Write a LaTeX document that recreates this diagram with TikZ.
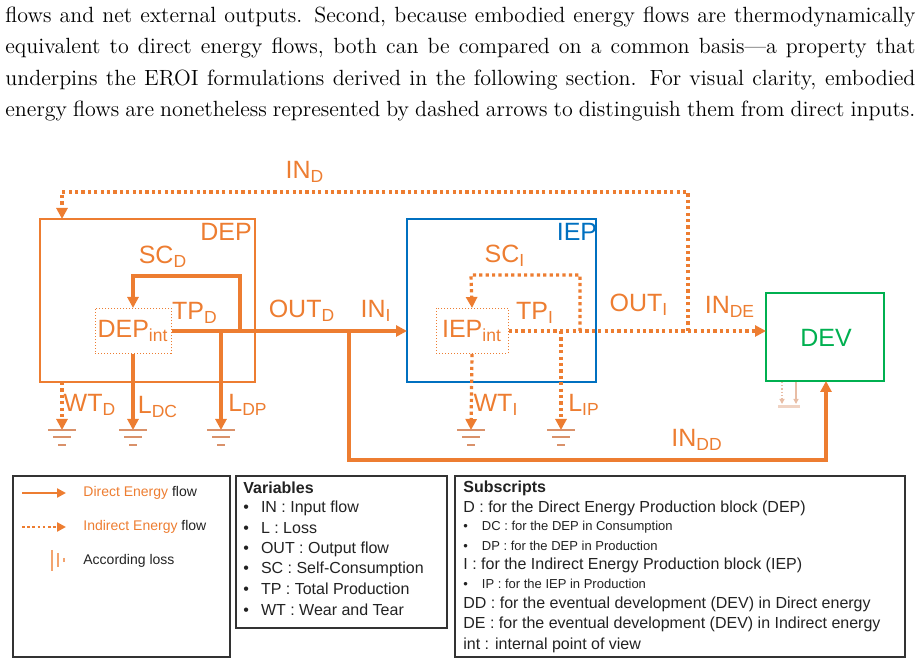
\documentclass[tikz,border=0pt]{standalone}
\usepackage{fontspec}
\newfontfamily\dsf{Liberation Sans}
\usetikzlibrary{arrows.meta,calc}
\definecolor{eo}{HTML}{ED7D31}
\definecolor{eb}{HTML}{0070C0}
\definecolor{eg}{HTML}{00B050}
\definecolor{gr}{HTML}{D9916A}
\definecolor{tx}{HTML}{222222}
\tikzset{
 direct/.style={eo,line width=1.6pt},
 indirect/.style={eo,line width=1.6pt,dash pattern=on 1.6pt off 1.6pt},
 tip/.style={-{Triangle[length=5.5pt,width=5.5pt]}},
 lbl/.style={eo,font=\dsf\fontsize{12.5}{13}\selectfont,inner sep=0pt},
 legtxt/.style={font=\dsf\fontsize{8}{9}\selectfont,anchor=west,inner sep=0pt,text=tx},
 smalltxt/.style={font=\dsf\fontsize{6.5}{8}\selectfont,anchor=west,inner sep=0pt,text=tx},
 para/.style={font=\fontsize{11}{13}\selectfont,anchor=west,inner sep=0pt},
}
\newcommand{\grnd}[1]{%
 \draw[gr,line width=1.3pt] ($(#1)+(-14,0)$)--($(#1)+(14,0)$);
 \draw[gr,line width=1.3pt] ($(#1)+(-9,7)$)--($(#1)+(9,7)$);
 \draw[gr,line width=1.3pt] ($(#1)+(-4,15)$)--($(#1)+(4,15)$);}
\begin{document}
\begin{tikzpicture}[x=0.5pt,y=-0.5pt]
\useasboundingbox (0,0) rectangle (921,667);
% paragraph
\node[para] (p1) at (5,17) {\makebox[455pt][s]{flows and net external outputs. Second, because embodied energy flows are thermodynamically}};
\node[para] (p2) at (5,48) {\makebox[455pt][s]{equivalent to direct energy flows, both can be compared on a common basis---a property that}};
\node[para] (p3) at (5,80) {\makebox[455pt][s]{underpins the EROI formulations derived in the following section. For visual clarity, embodied}};
\node[para] (p4) at (5,111) {\makebox[455pt][s]{energy flows are nonetheless represented by dashed arrows to distinguish them from direct inputs.}};
% boxes
\draw[eo,line width=1.2pt] (40,219) rectangle (255,382);
\draw[eb,line width=1.2pt] (407,219) rectangle (596,382);
\draw[eg,line width=1.2pt] (766,293) rectangle (884,381);
\coordinate (depT) at (62,219);
\node[draw=eo,densely dotted,line width=0.5pt,minimum width=38pt,minimum height=22.5pt,inner sep=0pt,eo,font=\dsf\fontsize{12.5}{13}\selectfont] (depint) at (133,331) {DEP\textsubscript{int}};
\node[draw=eb,densely dotted,line width=0.5pt,minimum width=36pt,minimum height=22.5pt,inner sep=0pt,eo,font=\dsf\fontsize{12.5}{13}\selectfont] (iepint) at (472,331) {IEP\textsubscript{int}};
\node[lbl] (deplbl) at (226,232) {DEP};
\node[lbl,eb] (ieplbl) at (577,232) {IEP};
\node[lbl,eg] (dev) at (826,338) {DEV};
\coordinate (devL) at (766,331);
\coordinate (devB) at (826,381);
\coordinate (iepL) at (407,331);
% labels
\node[lbl] at (305,172) {IN\textsubscript{D}};
\node[lbl] at (163,257) {SC\textsubscript{D}};
\node[lbl] at (195,313) {TP\textsubscript{D}};
\node[lbl] at (302,311) {OUT\textsubscript{D}};
\node[lbl] at (376,311) {IN\textsubscript{I}};
\node[lbl] at (90,405) {WT\textsubscript{D}};
\node[lbl] at (158,407) {L\textsubscript{DC}};
\node[lbl] at (248,405) {L\textsubscript{DP}};
\node[lbl] at (505,256) {SC\textsubscript{I}};
\node[lbl] at (535,313) {TP\textsubscript{I}};
\node[lbl] at (639,305) {OUT\textsubscript{I}};
\node[lbl] at (730,307) {IN\textsubscript{DE}};
\node[lbl] at (496,405) {WT\textsubscript{I}};
\node[lbl] at (584,405) {L\textsubscript{IP}};
\node[lbl] at (697,440) {IN\textsubscript{DD}};
% ground points
\coordinate (g1) at (62,430); \coordinate (g2) at (133,430); \coordinate (g3) at (221,430);
\coordinate (g4) at (471,430); \coordinate (g5) at (561,430);
% direct flows
\draw[direct,tip] (depint.east) -- (iepL);
\draw[direct,tip] (240,331) -- (240,276) -- (133,276) -- (depint.north);
\draw[direct,tip] (depint.south) -- (g2);
\draw[direct,tip] (221,331) -- (g3);
\draw[direct,tip] (349,331) -- (349,460) -- (826,460) -- (devB);
% indirect flows
\draw[indirect,tip] (688,331) -- (688,192) -- (62,192) -- (depT);
\draw[indirect,tip] (62,382) -- (g1);
\draw[indirect,tip] (iepint.east) -- (devL);
\draw[indirect,tip] (580,331) -- (580,275) -- (471,275) -- (iepint.north);
\draw[indirect,tip] (iepint.south) -- (g4);
\draw[indirect,tip] (561,331) -- (g5);
\foreach \g in {g1,g2,g3,g4,g5} {\grnd{\g}}
% faded losses under DEV
\draw[gr!60,line width=0.6pt,densely dotted,-{Triangle[length=2.5pt,width=2.5pt]}] (782,382) -- (782,404);
\draw[gr!60,line width=0.6pt,-{Triangle[length=2.5pt,width=2.5pt]}] (796,382) -- (796,404);
\draw[gr!40,line width=1.5pt] (778,407) -- (800,407);
% legend 1
\draw[black!80,line width=0.6pt] (13,476) rectangle (230,657);
\coordinate (la1) at (22,493); \coordinate (la2) at (66,493);
\coordinate (lb1) at (22,527); \coordinate (lb2) at (66,527);
\draw[direct,line width=1.3pt,-{Triangle[length=4.5pt,width=4.5pt]}] (la1) -- (la2);
\draw[indirect,line width=1.3pt,dash pattern=on 1.3pt off 1.3pt,-{Triangle[length=4.5pt,width=4.5pt]}] (lb1) -- (lb2);
\draw[eo!70,line width=0.9pt] (52,550) -- (52,571);
\draw[eo!70,line width=0.9pt] (58,553) -- (58,567);
\draw[eo!70,line width=0.9pt] (64,558) -- (64,562);
\node[legtxt,font=\dsf\fontsize{7}{9}\selectfont] at (83,493) {\textcolor{eo}{Direct Energy} flow};
\node[legtxt,font=\dsf\fontsize{7}{9}\selectfont] at (83,527) {\textcolor{eo}{Indirect Energy} flow};
\node[legtxt,font=\dsf\fontsize{7}{9}\selectfont] at (83,561) {According loss};
% legend 2
\draw[black!80,line width=0.6pt] (236,476) rectangle (447,628);
\node[legtxt,font=\dsf\bfseries\fontsize{8}{9}\selectfont] at (243,488) {Variables};
\foreach \y/\t in {508/IN : Input flow,528/L : Loss,549/OUT : Output flow,569/SC : Self-Consumption,589/TP : Total Production,610/WT : Wear and Tear}
  {\node[legtxt] at (243,\y) {\textbullet\hspace{6pt}\t};}
% legend 3
\draw[black!80,line width=0.6pt] (455,476) rectangle (905,657);
\node[legtxt,font=\dsf\bfseries\fontsize{8}{9}\selectfont] at (463,488) {Subscripts};
\node[legtxt] at (463,508) {D : for the Direct Energy Production block (DEP)};
\node[smalltxt] at (463,527) {\textbullet\hspace{7pt}DC : for the DEP in Consumption};
\node[smalltxt] at (463,546) {\textbullet\hspace{7pt}DP : for the DEP in Production};
\node[legtxt] at (463,565) {I : for the Indirect Energy Production block (IEP)};
\node[smalltxt] at (463,584) {\textbullet\hspace{7pt}IP : for the IEP in Production};
\node[legtxt] at (463,604) {DD : for the eventual development (DEV) in Direct energy};
\node[legtxt] at (463,624) {DE : for the eventual development (DEV) in Indirect energy};
\node[legtxt] at (463,645) {int : internal point of view};
\end{tikzpicture}
\end{document}
